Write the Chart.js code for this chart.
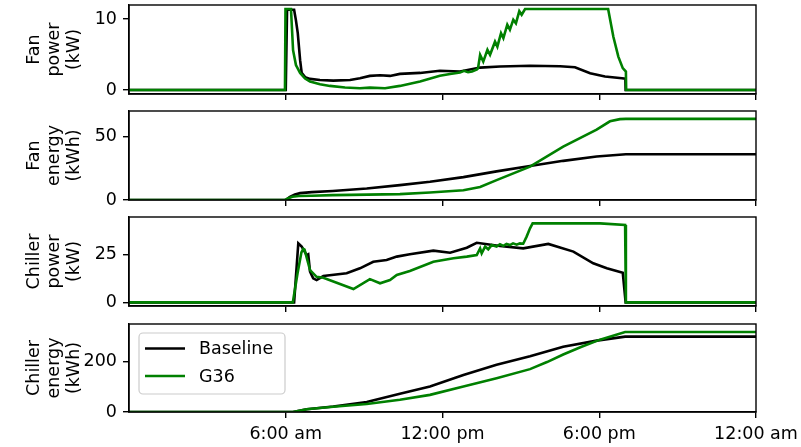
<!DOCTYPE html>
<html>
<head>
<meta charset="utf-8">
<script src="https://cdn.jsdelivr.net/npm/chart.js@4.4.0/dist/chart.umd.min.js"></script>
<style>
  body { margin: 0; background: #fff; width: 801px; height: 447px; overflow: hidden; position: relative; }
  canvas { position: absolute; left: 0; }
</style>
</head>
<body>
<canvas id="c1" width="801" height="102" style="top:0px"></canvas>
<canvas id="c2" width="801" height="102" style="top:106px"></canvas>
<canvas id="c3" width="801" height="102" style="top:212px"></canvas>
<canvas id="c4" width="801" height="128" style="top:319px"></canvas>
<script>
// hours of the day on the x axis
const xTicks = [6, 12, 18, 24];
const xLabels = ['6:00 am', '12:00 pm', '6:00 pm', '12:00 am'];
const seriesNames = ['Baseline', 'G36'];

// fan power (kW)
const fanPowerBaseHours = [0, 6.0, 6.05, 6.32, 6.39, 6.46, 6.55, 6.61, 6.74, 6.93, 7.31, 7.82, 8.46, 8.84, 9.22, 9.61, 9.99, 10.37, 11.14, 11.9, 12.67, 13.44, 14.2, 15.35, 16.5, 17.07, 17.65, 18.22, 18.87, 19.0, 19.01, 24];
const fanPowerBaseValues = [0, 0, 11.3, 11.3, 9.8, 8.0, 4.2, 2.4, 1.8, 1.56, 1.41, 1.32, 1.41, 1.65, 1.98, 2.07, 1.98, 2.26, 2.4, 2.7, 2.6, 3.15, 3.3, 3.4, 3.35, 3.2, 2.35, 1.9, 1.65, 1.6, 0, 0];
const fanPowerG36Hours = [0, 5.97, 5.99, 6.2, 6.28, 6.39, 6.55, 6.74, 6.93, 7.31, 7.69, 8.27, 8.84, 9.22, 9.8, 10.37, 11.14, 11.9, 12.29, 12.67, 12.82, 12.98, 13.13, 13.32, 13.36, 13.44, 13.56, 13.72, 13.82, 14.01, 14.1, 14.24, 14.33, 14.48, 14.58, 14.71, 14.81, 14.94, 15.03, 15.16, 18.34, 18.54, 18.73, 18.9, 19.02, 19.03, 24];
const fanPowerG36Values = [0, 0, 11.4, 11.4, 5.6, 3.5, 2.4, 1.6, 1.2, 0.8, 0.57, 0.35, 0.25, 0.33, 0.25, 0.57, 1.2, 2.0, 2.26, 2.45, 2.7, 2.5, 2.6, 2.9, 3.06, 4.95, 4.0, 5.66, 4.95, 6.8, 6.1, 8.0, 7.3, 9.2, 8.5, 9.9, 9.4, 11.1, 10.6, 11.4, 11.4, 7.5, 4.7, 3.07, 2.6, 0, 0];

// fan energy (kWh)
const fanEnergyBaseHours = [0, 6.0, 6.16, 6.35, 6.55, 7.0, 7.8, 9.1, 10.37, 11.52, 12.8, 14.07, 15.35, 16.62, 17.9, 19.02, 24];
const fanEnergyBaseValues = [0, 0, 2.5, 4.3, 5.4, 6.2, 7.1, 9.0, 11.7, 14.3, 18.0, 22.5, 26.8, 30.8, 34.2, 36.0, 36.0];
const fanEnergyG36Hours = [0, 5.97, 6.1, 6.25, 6.5, 7.0, 7.8, 8.5, 10.37, 11.52, 12.8, 13.44, 14.07, 15.35, 16.62, 17.9, 18.41, 18.79, 19.02, 24];
const fanEnergyG36Values = [0, 0, 1.4, 2.6, 3.1, 3.4, 3.8, 4.0, 4.6, 5.9, 7.7, 10.3, 15.6, 26.2, 42.0, 55.3, 61.9, 63.6, 63.8, 63.8];

// chiller power (kW)
const chillerPowerBaseHours = [0, 6.32, 6.48, 6.61, 6.8, 6.86, 6.93, 7.05, 7.18, 7.44, 8.33, 8.84, 9.35, 9.86, 10.25, 10.75, 11.65, 12.29, 12.93, 13.31, 14.2, 15.09, 16.05, 17.01, 17.77, 18.29, 18.9, 19.01, 24];
const chillerPowerBaseValues = [0, 0, 30.7, 29, 24.6, 25, 16, 12.5, 11.6, 13.7, 15.1, 17.7, 21.1, 22, 23.8, 25, 26.9, 25.8, 28.4, 31.0, 29.3, 28.1, 30.4, 26.4, 20.3, 17.7, 15.4, 0, 0];
const chillerPowerG36Hours = [0, 6.27, 6.45, 6.6, 6.67, 6.72, 6.93, 7.18, 7.44, 8.59, 9.22, 9.61, 9.99, 10.25, 10.75, 11.65, 12.42, 12.93, 13.31, 13.44, 13.5, 13.63, 13.75, 13.88, 14.07, 14.2, 14.33, 14.45, 14.58, 14.7, 14.84, 14.96, 15.09, 15.22, 15.35, 15.45, 18.03, 18.99, 19.02, 24];
const chillerPowerG36Values = [0, 0, 15, 26, 27.8, 27.4, 16.8, 13.3, 12.8, 6.9, 12.1, 9.9, 11.6, 14.2, 16.3, 21.1, 22.9, 23.8, 24.6, 28.1, 25.5, 29, 27.6, 29.8, 29, 30.2, 29.4, 30.4, 29.8, 30.7, 30.0, 30.7, 30.5, 34.2, 38.5, 41.1, 41.1, 40.3, 0, 0];

// chiller energy (kWh)
const chillerEnergyBaseHours = [0, 6.28, 6.8, 7.82, 9.1, 10.37, 11.52, 12.8, 14.07, 15.35, 16.62, 17.9, 18.99, 24];
const chillerEnergyBaseValues = [0, 0, 11, 22, 39.5, 72, 101, 147, 187, 221, 259, 283, 299, 299];
const chillerEnergyG36Hours = [0, 6.27, 6.8, 7.82, 9.1, 10.37, 11.52, 12.8, 14.07, 15.35, 16.0, 16.62, 17.3, 18.03, 18.99, 24];
const chillerEnergyG36Values = [0, 0, 11, 21, 31.6, 48.6, 68, 101, 134, 170, 198, 228, 258, 287, 317, 317];

const font = { family: 'DejaVu Sans', size: 17.5 };
const titleFont = { family: 'DejaVu Sans', size: 17.5, lineHeight: 1.15 };

function pairs(hours, values) {
  return hours.map((h, i) => ({ x: h, y: values[i] }));
}

// axes box (matplotlib style spines) + legend on the last panel
const frame = {
  id: 'frame',
  afterDraw(chart, args, opts) {
    const a = chart.chartArea;
    const ctx = chart.ctx;
    ctx.save();
    ctx.strokeStyle = '#000';
    ctx.lineWidth = 1.4;
    ctx.strokeRect(a.left, a.top, a.right - a.left, a.bottom - a.top);
    if (opts.legend) {
      const bx = a.left + 10, by = a.top + 9, bw = 146, bh = 61;
      ctx.beginPath();
      ctx.roundRect(bx, by, bw, bh, 4);
      ctx.fillStyle = 'rgba(255,255,255,0.8)';
      ctx.fill();
      ctx.strokeStyle = '#cccccc';
      ctx.lineWidth = 1.2;
      ctx.stroke();
      ctx.font = '17.5px "DejaVu Sans"';
      ctx.textBaseline = 'middle';
      ctx.textAlign = 'left';
      chart.data.datasets.forEach((ds, i) => {
        const y = by + 15.5 + i * 27.5;
        ctx.strokeStyle = ds.borderColor;
        ctx.lineWidth = 2.6;
        ctx.beginPath();
        ctx.moveTo(bx + 6, y);
        ctx.lineTo(bx + 46, y);
        ctx.stroke();
        ctx.fillStyle = '#000';
        ctx.fillText(ds.label, bx + 60, y + 1);
      });
    }
    ctx.restore();
  }
};

function panel(id, yTitle, yMin, yMax, yTicks, base, g36, last) {
  return new Chart(document.getElementById(id), {
    type: 'line',
    data: {
      datasets: [
        { label: seriesNames[0], data: base, borderColor: '#000000', borderWidth: 2.6, pointRadius: 0, tension: 0, order: 2 },
        { label: seriesNames[1], data: g36, borderColor: '#008000', borderWidth: 2.6, pointRadius: 0, tension: 0, order: 1 }
      ]
    },
    options: {
      responsive: false,
      animation: false,
      events: [],
      layout: { padding: { top: 5, right: 45, left: 0, bottom: 0 } },
      plugins: {
        legend: { display: false },
        tooltip: { enabled: false },
        frame: { legend: last }
      },
      scales: {
        x: {
          type: 'linear', min: 0, max: 24,
          afterBuildTicks: s => { s.ticks = xTicks.map(v => ({ value: v })); },
          afterFit: s => { s.height = last ? 35 : 8; s.paddingLeft = 0; s.paddingRight = 0; },
          ticks: {
            callback: (v, i) => last ? xLabels[i] : '',
            font: font, color: '#000', padding: 6, maxRotation: 0, autoSkip: false
          },
          grid: { drawOnChartArea: false, tickLength: 6, color: '#000', lineWidth: 1.4 },
          border: { color: '#000', width: 1.4 }
        },
        y: {
          min: yMin, max: yMax,
          afterBuildTicks: s => { s.ticks = yTicks.map(v => ({ value: v })); },
          afterFit: s => { s.width = 129; s.paddingTop = 0; s.paddingBottom = 0; },
          ticks: { font: font, color: '#000', padding: 6 },
          grid: { drawOnChartArea: false, tickLength: 6, color: '#000', lineWidth: 1.4 },
          border: { color: '#000', width: 1.4 },
          title: { display: true, text: yTitle, font: titleFont, color: '#000', padding: { top: 24, bottom: 0 } }
        }
      }
    },
    plugins: [frame]
  });
}

panel('c1', ['Fan', 'power', '(kW)'], -0.57, 11.97, [0, 10],
  pairs(fanPowerBaseHours, fanPowerBaseValues), pairs(fanPowerG36Hours, fanPowerG36Values), false);
panel('c2', ['Fan', 'energy', '(kWh)'], 0, 70, [0, 50],
  pairs(fanEnergyBaseHours, fanEnergyBaseValues), pairs(fanEnergyG36Hours, fanEnergyG36Values), false);
panel('c3', ['Chiller', 'power', '(kW)'], -1.9, 44.4, [0, 25],
  pairs(chillerPowerBaseHours, chillerPowerBaseValues), pairs(chillerPowerG36Hours, chillerPowerG36Values), false);
panel('c4', ['Chiller', 'energy', '(kWh)'], 0, 349, [0, 200],
  pairs(chillerEnergyBaseHours, chillerEnergyBaseValues), pairs(chillerEnergyG36Hours, chillerEnergyG36Values), true);
</script>
</body>
</html>
